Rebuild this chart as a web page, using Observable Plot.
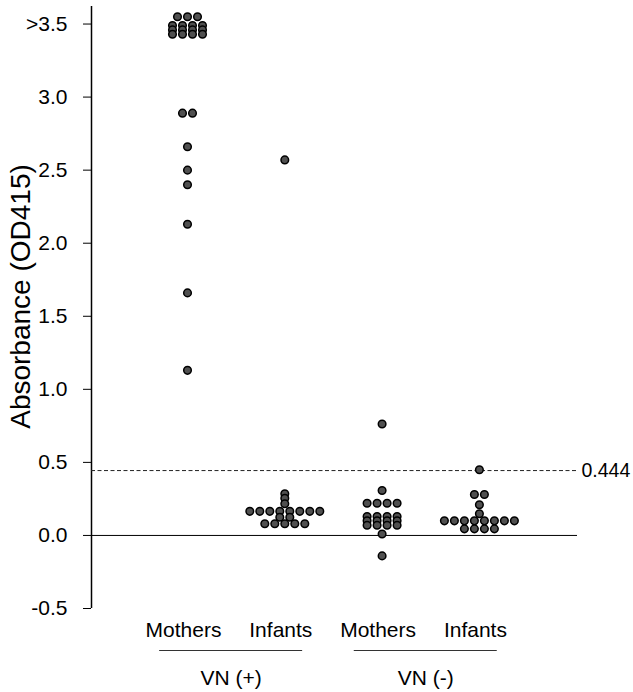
<!DOCTYPE html>
<html><head><meta charset="utf-8">
<script src="https://cdn.jsdelivr.net/npm/d3@7"></script>
<script src="https://cdn.jsdelivr.net/npm/@observablehq/plot@0.6"></script>
<style>html,body{margin:0;padding:0;background:#fff;} #chart svg{display:block;}</style>
</head><body><div id="chart"></div>
<script>
// ---- data ----
const categories = ["Mothers", "Infants", "Mothers", "Infants"];
const categoryStatus = ["VN (+)", "VN (+)", "VN (-)", "VN (-)"];
const statusGroups = ["VN (+)", "VN (-)"];
const mothersVNpos = [3.55, 3.55, 3.55, 3.49, 3.49, 3.49, 3.49, 3.46, 3.46, 3.46, 3.46,
  3.43, 3.43, 3.43, 3.43, 2.89, 2.89, 2.66, 2.50, 2.40, 2.13, 1.66, 1.13];
const infantsVNpos = [2.57, 0.285, 0.255, 0.217, 0.165, 0.165, 0.165, 0.165, 0.165, 0.165, 0.165, 0.165,
  0.125, 0.125, 0.08, 0.08, 0.08, 0.08, 0.08];
const mothersVNneg = [0.763, 0.308, 0.22, 0.22, 0.22, 0.22, 0.13, 0.13, 0.13, 0.13,
  0.10, 0.10, 0.10, 0.10, 0.07, 0.07, 0.07, 0.07, 0.01, -0.14];
const infantsVNneg = [0.45, 0.28, 0.28, 0.21, 0.148, 0.10, 0.10, 0.10, 0.10, 0.10, 0.10, 0.10, 0.10,
  0.045, 0.045, 0.045, 0.045];
const cutoff = 0.444;
const cutoffLabel = "0.444";
const yTicks = [-0.5, 0, 0.5, 1, 1.5, 2, 2.5, 3, 3.5];
const yTickLabels = ["-0.5", "0.0", "0.5", "1.0", "1.5", "2.0", "2.5", "3.0", ">3.5"];
const yLabel = "Absorbance (OD415)";

// ---- layout helpers ----
const series = [mothersVNpos, infantsVNpos, mothersVNneg, infantsVNneg];
const step = 9.73; // spacing between group centres, in dot widths
const centers = categories.map((_, i) => i * step);
const points = [];
series.forEach((vals, gi) => {
  for (const [v, arr] of d3.group(vals, d => d)) {
    arr.forEach((_, j) => points.push({
      category: categories[gi], status: categoryStatus[gi], value: v,
      slot: centers[gi] + j - (arr.length - 1) / 2
    }));
  }
});
const catTable = categories.map((c, i) => ({label: c, x: centers[i]}));
const statusTable = statusGroups.map((s, k) => ({label: s, mid: (centers[2 * k] + centers[2 * k + 1]) / 2}));
const xDomain = [centers[0] - 9.6, centers[3] + 9.81];
const yDomain = [-0.5, 3.62];
const font = "Liberation Sans, Arial, Helvetica, sans-serif";

const chart = Plot.plot({
  width: 633, height: 692,
  marginLeft: 91, marginRight: 56, marginTop: 6, marginBottom: 84,
  style: {fontFamily: font, color: "#000", background: "#fff"},
  x: {domain: xDomain, axis: null},
  y: {domain: yDomain, axis: null},
  marks: [
    Plot.axisY({ticks: yTicks, tickFormat: d => yTickLabels[yTicks.indexOf(d)], tickSize: 8, tickPadding: 16,
      fontSize: 21, label: null, stroke: "#000"}),
    Plot.ruleX([xDomain[0]], {stroke: "#000", strokeWidth: 1.5}),
    Plot.ruleY([0], {stroke: "#000", strokeWidth: 1}),
    Plot.ruleY([cutoff], {stroke: "#222", strokeWidth: 1, strokeDasharray: "4,2.5"}),
    Plot.text([cutoff], {x: xDomain[1], y: d => d, text: () => cutoffLabel, textAnchor: "start", dx: 4, fontSize: 19.5, fill: "#000"}),
    Plot.dot(points, {x: "slot", y: "value", r: 3.8, fill: "#505050", stroke: "#000", strokeWidth: 1.5}),
    Plot.text([yLabel], {frameAnchor: "left", textAnchor: "middle", rotate: -90, dx: -70, dy: -11, fontSize: 28, text: d => d, fill: "#000"}),
    Plot.text(catTable, {x: "x", y: () => yDomain[0], dy: 22, dx: -4, text: "label", fontSize: 21, fill: "#000"}),
    Plot.ruleY(statusTable, {x1: d => d.mid - 7.15, x2: d => d.mid + 7.15, y: () => yDomain[0], dy: 42, dx: -5, stroke: "#333", strokeWidth: 1}),
    Plot.text(statusTable, {x: "mid", y: () => yDomain[0], dy: 70, dx: -5, text: "label", fontSize: 21, fill: "#000"})
  ]
});
document.getElementById("chart").appendChild(chart);
</script>
</body></html>
